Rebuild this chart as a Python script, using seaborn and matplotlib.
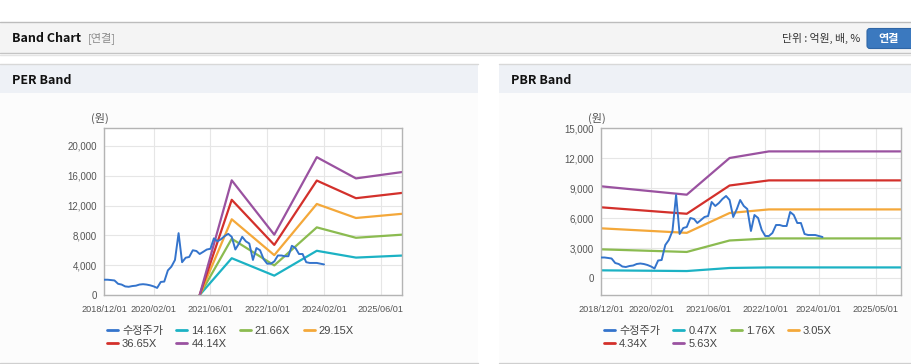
import pandas as pd
import matplotlib
matplotlib.use("Agg")
import matplotlib.pyplot as plt
import seaborn as sns
from matplotlib.patches import Rectangle, FancyBboxPatch
from matplotlib.ticker import FuncFormatter

sns.set_style("white")
plt.rcParams['font.family'] = ['Liberation Sans', 'Noto Sans CJK KR', 'DejaVu Sans']

# -------------------------
# Data
# -------------------------
price_start = "2018-12-01"
price = [2050, 2050, 2000, 1950, 1500, 1400, 1150, 1100, 1200, 1250,
         1400, 1450, 1400, 1300, 1150, 950, 1750, 1800, 3300, 3800,
         4700, 8300, 4400, 5000, 5100, 6000, 5900, 5500, 5800, 6100,
         6200, 7600, 7200, 7500, 7900, 8200, 7800, 6100, 6900, 7800,
         7200, 6900, 4700, 6300, 6000, 4800, 4200, 4200, 4500, 5300,
         5300, 5200, 5200, 6600, 6300, 5500, 5500, 4400, 4300, 4300,
         4300, 4200, 4100]

per_dates = ["2021-03-01", "2021-12-01", "2022-12-01", "2023-12-01",
             "2024-01-01", "2024-11-01", "2025-12-01"]
per_labels = ["14.16X", "21.66X", "29.15X", "36.65X", "44.14X"]
per_1416 = [0, 4933, 2596, 5932, 5845, 5017, 5290]
per_2166 = [0, 7546, 3970, 9073, 8941, 7674, 8092]
per_2915 = [0, 10156, 5343, 12211, 12033, 10328, 10890]
per_3665 = [0, 12769, 6718, 15353, 15129, 12985, 13692]
per_4414 = [0, 15380, 8090, 18490, 18220, 15640, 16490]

pbr_dates = ["2018-12-01", "2020-12-01", "2021-12-01", "2022-11-01", "2025-12-01"]
pbr_labels = ["0.47X", "1.76X", "3.05X", "4.34X", "5.63X"]
pbr_047 = [766, 696, 1002, 1057, 1057]
pbr_176 = [2867, 2605, 3751, 3958, 3958]
pbr_305 = [4968, 4514, 6500, 6859, 6859]
pbr_434 = [7070, 6423, 9249, 9761, 9761]
pbr_563 = [9170, 8330, 12000, 12660, 12660]

per_ticks = ["2018-12-01", "2020-02-01", "2021-06-01", "2022-10-01", "2024-02-01", "2025-06-01"]
pbr_ticks = ["2018-12-01", "2020-02-01", "2021-06-01", "2022-10-01", "2024-01-01", "2025-05-01"]

price_name = "수정주가"
colors = ["#3474cc", "#1cb2c4", "#8bbb50", "#f4a83a", "#d3302b", "#9a52a0"]


def build_frame(dates, bands, labels):
    price_dates = pd.date_range(price_start, periods=len(price), freq="MS")
    parts = [pd.DataFrame({"date": price_dates, "value": price, "series": price_name})]
    for vals, lab in zip(bands, labels):
        parts.append(pd.DataFrame({"date": pd.to_datetime(dates), "value": vals, "series": lab}))
    return pd.concat(parts, ignore_index=True)


per_df = build_frame(per_dates, [per_1416, per_2166, per_2915, per_3665, per_4414], per_labels)
pbr_df = build_frame(pbr_dates, [pbr_047, pbr_176, pbr_305, pbr_434, pbr_563], pbr_labels)

# -------------------------
# Figure + page decoration
# -------------------------
W, H = 912, 364
fig = plt.figure(figsize=(W / 100, H / 100), dpi=100)
fig.patch.set_facecolor("white")

bg = fig.add_axes([0, 0, 1, 1])
bg.set_xlim(0, W)
bg.set_ylim(H, 0)
bg.axis("off")

# header bar
bg.add_patch(Rectangle((0, 22), W, 31, fc="#f4f4f4", ec="none"))
bg.plot([0, W], [22, 22], color="#bcbcbc", lw=1)
bg.plot([0, W], [53, 53], color="#c4c4c4", lw=1)
bg.plot([0, W], [54.5, 54.5], color="#e4e4e4", lw=1)
bg.text(12, 38, "Band Chart", fontsize=9, fontweight="bold", color="#111111",
        va="center", family=["Noto Sans CJK KR"])
bg.text(88, 38, "[연결]", fontsize=8, color="#8a8a8a", va="center",
        family=["Noto Sans CJK KR"])
bg.text(860, 38, "단위 : 억원, 배, %", fontsize=7.8, color="#333333", va="center",
        ha="right", family=["Noto Sans CJK KR"])
bg.add_patch(FancyBboxPatch((867, 28.5), 50, 20, boxstyle="round,pad=0,rounding_size=3",
                            fc="#3b79bf", ec="#2f66a6", lw=0.8))
bg.text(889, 38.5, "연결", fontsize=8, fontweight="bold", color="white",
        va="center", ha="center", family=["Noto Sans CJK KR"])

# panels
for x0, x1, title in [(0, 478, "PER Band"), (499, W, "PBR Band")]:
    bg.add_patch(Rectangle((x0, 93), x1 - x0, 269, fc="#fcfcfc", ec="none"))
    bg.add_patch(Rectangle((x0, 64), x1 - x0, 29, fc="#eef1f6", ec="none"))
    bg.plot([x0, x1], [64, 64], color="#d8d8d8", lw=1)
    bg.plot([x0, x1], [362.5, 362.5], color="#cfcfcf", lw=1)
    bg.text(x0 + 12, 80, title, fontsize=9, fontweight="bold", color="#111111",
            va="center", family=["Noto Sans CJK KR"])


# -------------------------
# Charts
# -------------------------
def draw_chart(df, px, ylim, yticks, ticks, band_labels, unit_x):
    left, top, right, bottom = px
    ax = fig.add_axes([left / W, 1 - bottom / H, (right - left) / W, (bottom - top) / H])
    order = [price_name] + band_labels
    sns.lineplot(data=df, x="date", y="value", hue="series", hue_order=order,
                 palette=colors, linewidth=1.6, ax=ax)
    ax.lines[0].set_linewidth(1.4)
    ax.lines[0].set_zorder(5)

    ax.set_facecolor("white")
    ax.set_xlim(pd.Timestamp("2018-12-01"), pd.Timestamp("2025-12-01"))
    ax.set_ylim(*ylim)
    ax.set_yticks(yticks)
    ax.yaxis.set_major_formatter(FuncFormatter(lambda v, p: f"{int(v):,}"))
    tick_dates = pd.to_datetime(ticks)
    ax.set_xticks(tick_dates)
    ax.set_xticklabels([d.strftime("%Y/%m/%d") for d in tick_dates])
    ax.set_xlabel("")
    ax.set_ylabel("")
    ax.grid(True, color="#e6e6e6", lw=0.8)
    ax.set_axisbelow(True)
    for s in ax.spines.values():
        s.set_color("#b4b4b4")
        s.set_linewidth(1)
    ax.tick_params(axis="y", labelsize=7, colors="#555555", length=3, width=0.8,
                   pad=2, color="#b4b4b4")
    ax.tick_params(axis="x", labelsize=6.6, colors="#555555", length=0, pad=7)

    bg.text(unit_x, 118, "(원)", fontsize=8, color="#555555", ha="center", va="center",
            family=["Noto Sans CJK KR"])

    # legend filled row by row like the reference (matplotlib fills columns)
    handles, labels = ax.get_legend_handles_labels()
    pick = [0, 4, 1, 5, 2, 3]
    leg = ax.legend([handles[i] for i in pick], [labels[i] for i in pick],
                    loc="upper left", bbox_to_anchor=(0.01, -0.185), ncol=4,
                    frameon=False, fontsize=8, handlelength=1.0, handletextpad=0.35,
                    columnspacing=1.2, labelspacing=0.25, borderpad=0, borderaxespad=0)
    for line in leg.get_lines():
        line.set_linewidth(2)
    for t in leg.get_texts():
        t.set_color("#444444")
    return ax


draw_chart(per_df, (104, 128, 402, 295), (0, 22400), range(0, 20001, 4000),
           per_ticks, per_labels, 100)
draw_chart(pbr_df, (601, 128, 901, 295), (-1700, 15000), range(0, 15001, 3000),
           pbr_ticks, pbr_labels, 597)

fig.savefig("out.png", dpi=100, facecolor=fig.get_facecolor())
